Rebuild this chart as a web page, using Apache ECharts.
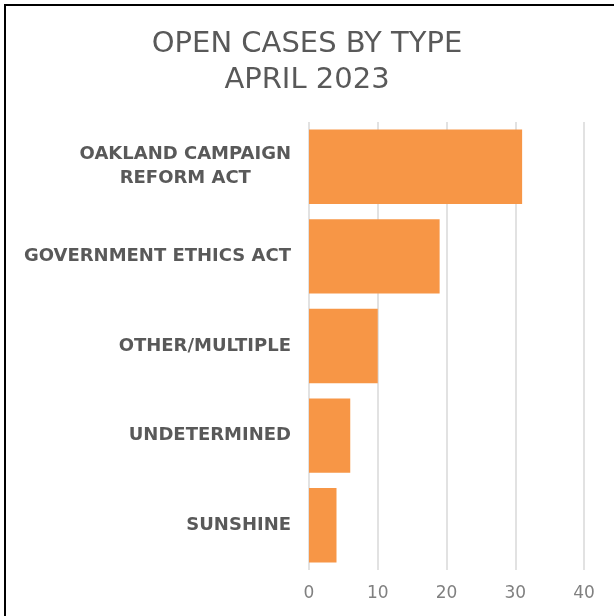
<!DOCTYPE html>
<html>
<head>
<meta charset="utf-8">
<script src="https://cdn.jsdelivr.net/npm/echarts@6/dist/echarts.min.js"></script>
<style>
  html, body { margin: 0; padding: 0; background: #fff; overflow: hidden; }
  #frame {
    position: absolute; left: 4px; top: 4px;
    width: 700px; height: 700px;
    border: 2px solid #000;
  }
  #cases { position: absolute; left: 0; top: 0; width: 614px; height: 616px; }
</style>
</head>
<body>
<div id="frame"></div>
<div id="cases"></div>
<script>
const categories = [
  'OAKLAND CAMPAIGN\nREFORM ACT',
  'GOVERNMENT ETHICS ACT',
  'OTHER/MULTIPLE',
  'UNDETERMINED',
  'SUNSHINE'
];
const openCases = [31, 19, 10, 6, 4];
const xTicks = { min: 0, max: 40, interval: 10 };

const labelFont = { fontSize: 18, fontWeight: 'bold', fontFamily: '"DejaVu Sans", sans-serif', color: '#595959' };

const chart = echarts.init(document.getElementById('cases'));
chart.setOption({
  animation: false,
  title: {
    text: 'OPEN CASES BY TYPE\nAPRIL 2023',
    left: 'center',
    top: 21,
    textStyle: {
      fontSize: 29,
      fontWeight: 'normal',
      fontFamily: '"DejaVu Sans", sans-serif',
      color: '#595959',
      lineHeight: 36
    }
  },
  grid: {
    left: 309,
    right: 30,
    top: 122,
    bottom: 46,
    containLabel: false,
    outerBoundsMode: 'none'
  },
  xAxis: {
    type: 'value',
    min: xTicks.min,
    max: xTicks.max,
    interval: xTicks.interval,
    axisLine: { show: false },
    axisTick: { show: false },
    splitLine: { lineStyle: { color: '#d9d9d9', width: 1.5 } },
    axisLabel: {
      margin: 15,
      fontSize: 17,
      fontFamily: '"DejaVu Sans", sans-serif',
      color: '#808080'
    }
  },
  yAxis: {
    type: 'category',
    inverse: true,
    data: categories,
    axisLine: { show: false },
    axisTick: { show: false },
    axisLabel: Object.assign({
      margin: 18,
      lineHeight: 24,
      formatter: (v) => v.split('\n').map(l => '{c|' + l + '}').join('\n'),
      rich: { c: Object.assign({ align: 'center', lineHeight: 24 }, labelFont) }
    }, labelFont)
  },
  series: [
    {
      name: 'Open cases',
      type: 'bar',
      data: openCases,
      barCategoryGap: '17%',
      itemStyle: { color: '#F79646' }
    }
  ]
});
</script>
</body>
</html>
